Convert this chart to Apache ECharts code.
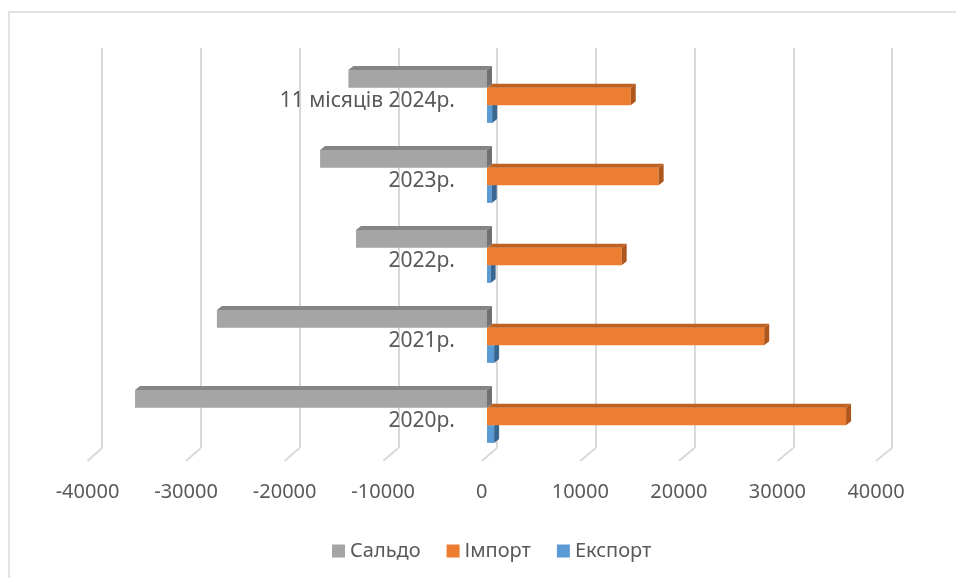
<!DOCTYPE html>
<html>
<head>
<meta charset="utf-8">
<script src="https://cdn.jsdelivr.net/npm/echarts@6/dist/echarts.min.js"></script>
<style>
  html, body { margin: 0; padding: 0; background: #fff; }
  #main { width: 956px; height: 578px; }
</style>
</head>
<body>
<div id="main"></div>
<script>
// категорії знизу вгору
var categories = ['2020р.', '2021р.', '2022р.', '2023р.', '11 місяців 2024р.'];
var saldo  = [-35680, -27380, -13280, -16920, -14050];
var importV = [36400, 28100, 13650, 17400, 14570];
var exportV = [720, 720, 370, 480, 520];
var xTicks = [-40000, -30000, -20000, -10000, 0, 10000, 20000, 30000, 40000];

var textColor = '#595959';
var fontFam = '"Noto Sans", "DejaVu Sans", sans-serif';

// об'ємний стовпчик: передня грань + верх + правий бік
function bar3d(k, front, top, side) {
  return function (params, api) {
    var val = api.value(0), cat = api.value(1);
    var c0 = api.coord([0, cat]);
    var c1 = api.coord([val, cat]);
    var band = api.size([0, 1])[1];
    var h = band * 0.66 / 3;
    var y0 = c0[1] - 1.5 * h + k * h, y1 = y0 + h;
    var xl = Math.min(c0[0], c1[0]), xr = Math.max(c0[0], c1[0]);
    var dx = 5, dy = 4;
    return {
      type: 'group',
      children: [
        { type: 'rect', shape: { x: xl, y: y0, width: xr - xl, height: h }, style: { fill: front } },
        { type: 'polygon', shape: { points: [[xl, y0], [xr, y0], [xr + dx, y0 - dy], [xl + dx, y0 - dy]] }, style: { fill: top } },
        { type: 'polygon', shape: { points: [[xr, y0], [xr + dx, y0 - dy], [xr + dx, y1 - dy], [xr, y1]] }, style: { fill: side } }
      ]
    };
  };
}

function pairs(arr) {
  return arr.map(function (v, i) { return [v, i]; });
}

var myChart = echarts.init(document.getElementById('main'));

var frontLeft = 87.5, zeroX = 487;

var option = {
  backgroundColor: '#fff',
  animation: false,
  textStyle: { fontFamily: fontFam },
  legend: {
    data: ['Сальдо', 'Імпорт', 'Експорт'],
    bottom: 12,
    left: 327,
    icon: 'rect',
    itemWidth: 13,
    itemHeight: 13,
    itemGap: 26,
    textStyle: { color: textColor, fontSize: 20, fontFamily: fontFam }
  },
  grid: [
    { left: 102, right: 64, top: 48, height: 400, outerBoundsMode: 'none', containLabel: false },   // задня стінка
    { left: 92.4, right: 74.4, top: 56.5, height: 400, outerBoundsMode: 'none', containLabel: false }, // стовпчики
    { left: frontLeft, right: 80, top: 61, height: 400, outerBoundsMode: 'none', containLabel: false } // підписи
  ],
  xAxis: [
    {
      gridIndex: 0, type: 'value', min: -40000, max: 40000, interval: 10000,
      axisLine: { show: false }, axisTick: { show: false }, axisLabel: { show: false },
      splitLine: { lineStyle: { color: '#d9d9d9', width: 2 } }
    },
    {
      gridIndex: 1, type: 'value', min: -40000, max: 40000, interval: 10000,
      axisLine: { show: false }, axisTick: { show: false }, axisLabel: { show: false },
      splitLine: { show: false }
    },
    {
      gridIndex: 2, type: 'value', min: -40000, max: 40000, interval: 10000,
      axisLine: { show: false }, axisTick: { show: false },
      splitLine: { show: false },
      axisLabel: {
        color: textColor, fontSize: 20, margin: 21, fontFamily: fontFam,
        formatter: function (v) { return String(v); }
      }
    }
  ],
  yAxis: [
    { gridIndex: 0, type: 'category', data: categories, show: false },
    { gridIndex: 1, type: 'category', data: categories, show: false },
    {
      gridIndex: 2, type: 'category', data: categories,
      position: 'left', offset: -(zeroX - frontLeft),
      axisLine: { show: false, onZero: false }, axisTick: { show: false },
      axisLabel: { color: textColor, fontSize: 21, margin: 32, fontFamily: fontFam }
    }
  ],
  series: [
    {
      name: 'Експорт', type: 'custom', xAxisIndex: 1, yAxisIndex: 1,
      itemStyle: { color: '#5b9bd5' },
      encode: { x: 0, y: 1 },
      renderItem: bar3d(2, '#5b9bd5', '#4a82b5', '#386792'),
      data: pairs(exportV)
    },
    {
      name: 'Імпорт', type: 'custom', xAxisIndex: 1, yAxisIndex: 1,
      itemStyle: { color: '#ed7d31' },
      encode: { x: 0, y: 1 },
      renderItem: bar3d(1, '#ed7d31', '#c0621f', '#ae561b'),
      data: pairs(importV)
    },
    {
      name: 'Сальдо', type: 'custom', xAxisIndex: 1, yAxisIndex: 1,
      itemStyle: { color: '#a5a5a5' },
      encode: { x: 0, y: 1 },
      renderItem: bar3d(0, '#a5a5a5', '#858585', '#717171'),
      data: pairs(saldo)
    }
  ]
};

myChart.setOption(option);

// рамка та похилі лінії підлоги
var gfx = [{
  type: 'rect', silent: true,
  shape: { x: 9, y: 12, width: 1000, height: 700 },
  style: { fill: null, stroke: '#d9d9d9', lineWidth: 1.5 }
}];
xTicks.forEach(function (v) {
  var xb = myChart.convertToPixel({ xAxisIndex: 0 }, v);
  var xf = myChart.convertToPixel({ xAxisIndex: 2 }, v);
  gfx.push({
    type: 'line', silent: true,
    shape: { x1: xb, y1: 448, x2: xf, y2: 461 },
    style: { stroke: '#d9d9d9', lineWidth: 2 }
  });
});
myChart.setOption({ graphic: gfx });
</script>
</body>
</html>
